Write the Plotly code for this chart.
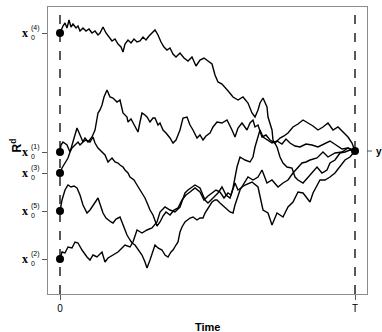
import plotly.graph_objects as go

# ---- data (time in steps, 0..T ; value on an arbitrary R^d axis) ----
T_END = 295
Y_END = 143
start_labels = ["(1)", "(2)", "(3)", "(4)", "(5)"]
start_values = [142, 35, 121, 261, 83]

t_path4 = [0,1,3,5,7,9,11,13,16,18,20,23,26,29,32,35,38,40,43,46,49,52,55,58,61,63,65,68,71,74,77,80,83,86,89,92,95,98,101,104,107,110,113,116,120,124,128,132,136,140,144,148,152,155,158,162,166,169,173,178,183,188,192,195,198,200,203,205,207,208,212,213,217,220,223,227,232,235,238,243,248,253,257,262,267,270,275,280,285,290,295]
v_path4 = [261,264,268,271,266,274,267,270,266,268,263,266,263,265,261,263,259,261,267,261,257,253,255,250,247,242,250,254,251,255,252,253,257,254,258,261,264,259,252,247,244,246,240,237,241,236,233,237,228,234,236,233,230,219,212,210,206,202,197,194,197,191,181,177,184,191,196,192,187,177,164,154,147,137,131,127,126,117,114,111,117,122,127,121,124,131,134,141,142,144,143]

t_path3 = [0,2,5,8,10,12,15,18,20,22,25,28,32,35,38,40,42,44,47,50,53,57,60,63,67,68,71,75,78,80,82,85,87,90,93,95,98,100,103,106,110,113,116,120,123,127,130,133,137,140,143,146,150,153,157,162,167,172,175,178,182,187,190,193,195,198,202,206,210,215,220,224,228,233,238,243,248,253,258,263,268,273,278,283,288,292,295]
v_path3 = [121,126,131,136,142,146,149,152,149,151,156,152,157,164,181,184,189,197,204,197,196,192,194,181,177,172,175,167,162,172,181,179,177,172,176,176,169,171,164,161,156,151,154,164,176,177,169,164,156,159,154,158,161,167,172,171,174,164,157,166,171,164,171,174,167,169,157,159,154,151,156,158,161,167,170,174,171,168,164,167,171,164,167,162,157,151,143]

t_path1 = [0,1,3,5,7,10,13,15,17,20,23,26,30,33,35,38,42,45,48,52,55,58,60,63,65,68,70,74,77,80,83,85,88,90,93,95,97,100,103,106,110,114,118,122,126,130,135,140,144,148,152,156,160,164,168,171,173,175,177,180,185,190,193,195,197,200,203,208,212,217,222,226,230,235,240,246,252,258,264,270,276,282,288,295]
v_path1 = [142,149,152,150,149,142,152,159,166,159,152,154,152,157,151,146,142,139,132,136,132,131,129,127,124,121,117,114,109,104,99,96,89,84,79,74,68,72,78,82,79,84,86,94,99,102,106,102,94,98,101,104,102,96,101,99,106,116,127,137,134,132,137,147,154,164,157,154,151,153,150,155,151,148,147,150,149,147,150,153,149,145,146,143]

t_path5 = [0,2,5,8,11,14,17,20,23,27,30,33,36,38,41,43,46,48,51,53,56,60,63,67,70,72,75,77,80,82,85,87,90,92,95,98,102,105,108,111,113,116,118,120,122,125,127,130,133,137,140,143,145,147,150,152,155,157,160,162,165,167,170,173,175,180,183,188,193,198,202,207,212,218,223,228,233,238,242,246,250,257,263,268,275,282,288,295]
v_path5 = [83,94,104,109,107,108,106,99,89,81,84,89,94,96,87,81,76,74,72,71,75,77,69,59,54,51,49,46,42,39,32,26,34,41,49,46,44,39,37,42,44,49,52,62,67,72,74,76,77,74,76,76,81,84,89,92,94,94,91,89,86,84,82,81,89,104,109,117,114,117,124,111,114,107,111,114,121,126,131,132,134,136,142,137,141,142,146,143]

t_path2 = [0,2,5,8,12,15,18,22,27,30,33,37,42,45,48,53,58,62,65,70,73,77,82,87,92,97,100,105,110,115,120,125,128,135,140,145,148,153,158,162,166,170,175,178,185,192,198,203,208,212,217,223,228,233,238,243,250,253,260,265,270,275,280,285,290,295]
v_path2 = [35,42,41,47,46,52,51,44,37,34,39,37,42,32,36,39,42,46,49,47,52,64,61,64,66,72,82,87,84,82,87,101,104,109,106,94,91,96,101,107,99,96,111,104,109,112,107,84,81,69,81,77,87,92,102,101,92,101,114,114,117,121,127,134,137,143]

paths = [(t_path4, v_path4), (t_path3, v_path3), (t_path1, v_path1),
         (t_path5, v_path5), (t_path2, v_path2)]

fig = go.Figure()
for t, v in paths:
    fig.add_trace(go.Scatter(x=t, y=v, mode="lines",
                             line=dict(color="black", width=1.4),
                             showlegend=False, hoverinfo="skip"))

# start and end points
fig.add_trace(go.Scatter(x=[0]*len(start_values), y=start_values, mode="markers",
                         marker=dict(color="black", size=8), showlegend=False,
                         hoverinfo="skip"))
fig.add_trace(go.Scatter(x=[T_END], y=[Y_END], mode="markers",
                         marker=dict(color="black", size=8), showlegend=False,
                         hoverinfo="skip"))

# dashed verticals at 0 and T
for xv in [0, T_END]:
    fig.add_shape(type="line", x0=xv, x1=xv, xref="x", yref="paper",
                  y0=0, y1=0.985, line=dict(color="black", width=1.3, dash="dash"))

# right-hand tick for y
fig.add_shape(type="line", xref="paper", x0=1, x1=1.016, yref="y",
              y0=Y_END, y1=Y_END, line=dict(color="#555", width=1))

YR = [0, 287]
fig.update_layout(
    width=382, height=332,
    margin=dict(l=48, r=15, t=7, b=38, autoexpand=False),
    paper_bgcolor="white", plot_bgcolor="white",
    font=dict(family="Liberation Sans, Arial, sans-serif", color="black"),
    xaxis=dict(range=[-12, 307], showgrid=False, zeroline=False, automargin=False,
               showline=True, linecolor="#8c8c8c", linewidth=1, mirror=True,
               tickvals=[0, T_END], ticktext=["0", "T"], ticks="outside",
               ticklen=5, tickcolor="#555", tickfont=dict(size=10, color="black")),
    yaxis=dict(range=YR, showgrid=False, zeroline=False, automargin=False,
               showline=True, linecolor="#8c8c8c", linewidth=1, mirror=True,
               tickvals=start_values, ticktext=[""]*len(start_values),
               ticks="outside", ticklen=5, tickcolor="#555"),
)

# tick labels x_0^(i)
for lab, val in zip(start_labels, start_values):
    fig.add_annotation(x=0, xref="paper", y=val, yref="y", text="<b>x</b>",
                       showarrow=False, xanchor="center", yanchor="middle",
                       xshift=-23, yshift=0,
                       font=dict(family="Liberation Serif, serif", size=12, color="black"))
    fig.add_annotation(x=0, xref="paper", y=val, yref="y", text="0",
                       showarrow=False, xanchor="left", yanchor="middle",
                       xshift=-19, yshift=-4, font=dict(size=7, color="black"))
    fig.add_annotation(x=0, xref="paper", y=val, yref="y", text=lab,
                       showarrow=False, xanchor="left", yanchor="middle",
                       xshift=-19, yshift=5, font=dict(size=7, color="black"))

fig.add_annotation(x=1, xref="paper", y=Y_END, yref="y", text="<b>y</b>",
                   showarrow=False, xanchor="center", yanchor="middle",
                   xshift=12, font=dict(size=10, color="black"))

fig.add_annotation(x=0, xref="paper", y=0.5, yref="paper",
                   text="<b>R<sup>d</sup></b>", textangle=-90, showarrow=False,
                   xanchor="center", xshift=-33, yshift=5,
                   font=dict(size=12, color="black"))

fig.add_annotation(x=0.5, xref="paper", y=0, yref="paper",
                   text="<b>Time</b>", showarrow=False, xanchor="center",
                   yanchor="middle", yshift=-33, font=dict(size=11, color="black"))

fig.write_html("out.html", config={"displayModeBar": False},
               post_script="document.body.style.margin='0px';document.body.style.padding='0px';")
